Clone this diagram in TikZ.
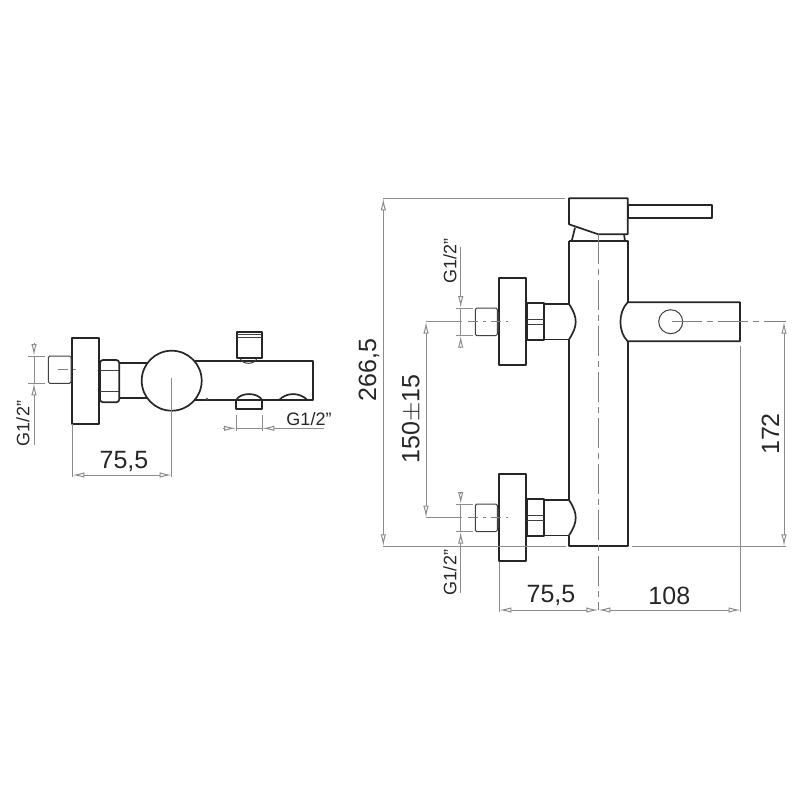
\documentclass[tikz,border=0pt]{standalone}
\usepackage{fontspec}
\setmainfont{Liberation Sans}
\usetikzlibrary{arrows.meta}
\tikzset{
    part/.style={line width=1.7pt, black!85, line join=round},
    thinpart/.style={line width=1pt, black!75},
    dimline/.style={line width=1pt, black!45},
    dimhead/.style={dimline, -{Latex[open,length=12pt,width=5.5pt]}},
    centreline/.style={line width=0.9pt, black!50, dash pattern=on 30pt off 5pt on 6pt off 5pt},
    shortcentre/.style={line width=0.9pt, black!50, dash pattern=on 10pt off 5pt on 3pt off 5pt},
    bigdim/.style={font=\fontsize{25}{25}\selectfont, text=black!85, inner sep=0pt},
    smalldim/.style={font=\fontsize{18}{18}\selectfont, text=black!85, inner sep=0pt}
}
\begin{document}
\begin{tikzpicture}[x=1pt,y=-1pt]
    \useasboundingbox (0,0) rectangle (800,800);

    % draw left view
    \draw[part] (72.3,337.7) rectangle (99.3,424.3);
    \draw[part,rounded corners=3pt] (100,360) rectangle (119.3,402.3);
    \draw[thinpart] (100,370) -- (119.3,370);
    \draw[thinpart] (100,391.7) -- (119.3,391.7);
    \draw[part] (119.3,362.7) -- (147,362.7);
    \draw[part] (119.3,398.3) -- (147,398.3);
    \draw[thinpart,rounded corners=1.5pt] (71,356) -- (48.3,356) -- (48.3,383.3) -- (71,383.3) -- cycle;
    \draw[part] (195,361) -- (312.7,361) -- (312.7,400.3) -- (195,400.3);
    \draw[part] (171.7,380.7) circle (30);

    % draw shower outlet
    \draw[part] (237.3,331.7) rectangle (261.7,358.3);
    \foreach \y in {334,337}
    \draw[thinpart] (237.3,\y) -- (261.7,\y);
    \draw[thinpart] (240,358.3) .. controls (243,365) and (254,365) .. (257,358.3);

    % draw spout and small outlet
    \draw[part] (236,400.3) -- (236,409.3) -- (262.3,409.3) -- (262.3,400.3);
    \draw[part] (236,400.3) .. controls (240,392) and (258,392) .. (262.3,400.3);
    \draw[part] (279,400.3) .. controls (286,392) and (300,392) .. (307.7,400.3);
    \fill[black!70] (207,399) circle (1.5);

    % draw right view body
    \draw[part] (569,241) -- (569,304);
    \draw[part] (569,339.3) -- (569,501);
    \draw[part] (569,536) -- (569,546.3) -- (627.7,546.3) -- (627.7,341.3);
    \draw[part] (627.7,302.3) -- (627.7,241) -- (569,241);

    % draw lever
    \draw[part] (569,198.3) -- (627.7,198.3) -- (627.7,234.3) -- (598.3,234.3) -- (569,224.3) -- cycle;
    \draw[part] (627.7,205) rectangle (712.3,218.3);
    \draw[part] (575,227.7) -- (571.7,241);
    \draw[part] (624,234.3) -- (625,241);

    % draw right spout
    \draw[part] (627.7,302.3) -- (740,302.3) -- (740,341.3) -- (627.7,341.3)
        .. controls (618,332) and (618,312) .. (627.7,302.3);
    \draw[thinpart] (670.7,321.7) circle (12);

    % draw the two valves
    \foreach \vy in {321.7,517.7} {
        \draw[part] (499.3,\vy-43.4) rectangle (526,\vy+43.4);
        \draw[part] (526.7,\vy-18.5) rectangle (544,\vy+18.5);
        \draw[thinpart] (526.7,\vy-2) -- (544,\vy-2);
        \draw[thinpart] (526.7,\vy+2.5) -- (544,\vy+2.5);
        \draw[part] (544,\vy-17.7) -- (569,\vy-17.7);
        \draw[part] (544,\vy+17.7) -- (569,\vy+17.7);
        \draw[part] (569,\vy-17.7) .. controls (574,\vy-10) and (575.7,\vy-5) .. (575.7,\vy)
            .. controls (575.7,\vy+5) and (574,\vy+10) .. (569,\vy+17.7);
        \draw[thinpart,rounded corners=1.5pt] (497.3,\vy-13.7) -- (475.3,\vy-13.7) -- (475.3,\vy+14) -- (497.3,\vy+14) -- cycle;
        \draw[thinpart] (498.6,\vy-10) -- (498.6,\vy+10);
        % centre line and pipe size marks
        \draw[shortcentre] (468,\vy) -- (508,\vy);
        \draw[dimline] (426,\vy) -- (462,\vy);
        \draw[dimline] (456,\vy-13.7) -- (472.7,\vy-13.7);
        \draw[dimline] (456,\vy+14) -- (472.7,\vy+14);
        \draw[dimline] (460.7,\vy-13.7) -- (460.7,\vy+14);
    }

    % draw centre lines
    \draw[centreline] (598.3,234) -- (598.3,610);
    \draw[centreline] (671.7,321.7) -- (786,321.7);
    \draw[shortcentre] (57.7,369.3) -- (79,369.3);

    % draw dimension 266,5
    \draw[dimline] (383.3,198.3) -- (565,198.3);
    \draw[dimline] (383.3,546.3) -- (566,546.3);
    \draw[dimline] (632,546.3) -- (786,546.3);
    \draw[dimline] (383.3,210.7) -- (383.3,534);
    \draw[dimhead] (383.3,210.7) -- (383.3,198.3);
    \draw[dimhead] (383.3,534) -- (383.3,546.3);
    \node[bigdim,rotate=90] (dimheight) at (369,370) {266,5};

    % draw dimension 150+-15
    \draw[dimline] (426,335) -- (426,505);
    \draw[dimhead] (426,335) -- (426,321.7);
    \draw[dimhead] (426,505) -- (426,517.7);
    \node[bigdim,rotate=90] (dimvalves) at (411.7,419) {150$\pm$15};

    % draw dimension 172
    \draw[dimline] (784,334) -- (784,534);
    \draw[dimhead] (784,334) -- (784,321.7);
    \draw[dimhead] (784,534) -- (784,546.3);
    \node[bigdim,rotate=90] (dimspout) at (770.5,434) {172};

    % draw bottom dimensions
    \draw[dimline] (499.3,561.7) -- (499.3,612);
    \draw[dimline] (740.7,345.7) -- (740.7,612);
    \draw[dimline] (512.7,610) -- (585.7,610);
    \draw[dimline] (611.7,610) -- (728.3,610);
    \draw[dimhead] (512.7,610) -- (499.3,610);
    \draw[dimhead] (585.7,610) -- (598.3,610);
    \draw[dimhead] (611.7,610) -- (598.3,610);
    \draw[dimhead] (728.3,610) -- (740.7,610);
    \node[bigdim] (dimwallright) at (551,595.7) {75,5};
    \node[bigdim] (dimspoutlen) at (669.3,595.7) {108};

    % draw pipe sizes right view
    \draw[dimline] (460.7,246.7) -- (460.7,296);
    \draw[dimhead] (460.7,296) -- (460.7,308);
    \draw[dimhead] (460.7,348.3) -- (460.7,335.7);
    \node[smalldim,rotate=90] (pipetop) at (450,261) {G1/2"};
    \draw[dimhead] (460.7,492.7) -- (460.7,504);
    \draw[dimhead] (460.7,546) -- (460.7,531.7);
    \draw[dimline] (460.7,546) -- (460.7,593.3);
    \node[smalldim,rotate=90] (pipebottom) at (450,572.5) {G1/2"};

    % draw left view dimensions
    \draw[dimline] (28.3,356) -- (45,356);
    \draw[dimline] (28.3,383.3) -- (45,383.3);
    \draw[dimline] (34,356) -- (34,383.3);
    \draw[dimhead] (34,343.3) -- (34,356);
    \draw[dimhead] (34,396.7) -- (34,383.3);
    \draw[dimline] (34,396.7) -- (34,445);
    \node[smalldim,rotate=90] (pipeleft) at (23,423.5) {G1/2"};

    \draw[dimline] (72.3,424.3) -- (72.3,476.7);
    \draw[dimline] (171.7,378) -- (171.7,476.7);
    \draw[dimline] (85,475) -- (159.3,475);
    \draw[dimhead] (85,475) -- (72.3,475);
    \draw[dimhead] (159.3,475) -- (171.7,475);
    \node[bigdim] (dimwallleft) at (124,461) {75,5};

    \draw[dimline] (236,415) -- (236,430.7);
    \draw[dimline] (262.3,415) -- (262.3,430.7);
    \draw[dimhead] (223.3,428.3) -- (236,428.3);
    \draw[dimline] (236,428.3) -- (262.3,428.3);
    \draw[dimhead] (275,428.3) -- (262.3,428.3);
    \draw[dimline] (275,428.3) -- (324,428.3);
    \node[smalldim] (pipespout) at (309,419) {G1/2"};
\end{tikzpicture}
\end{document}
